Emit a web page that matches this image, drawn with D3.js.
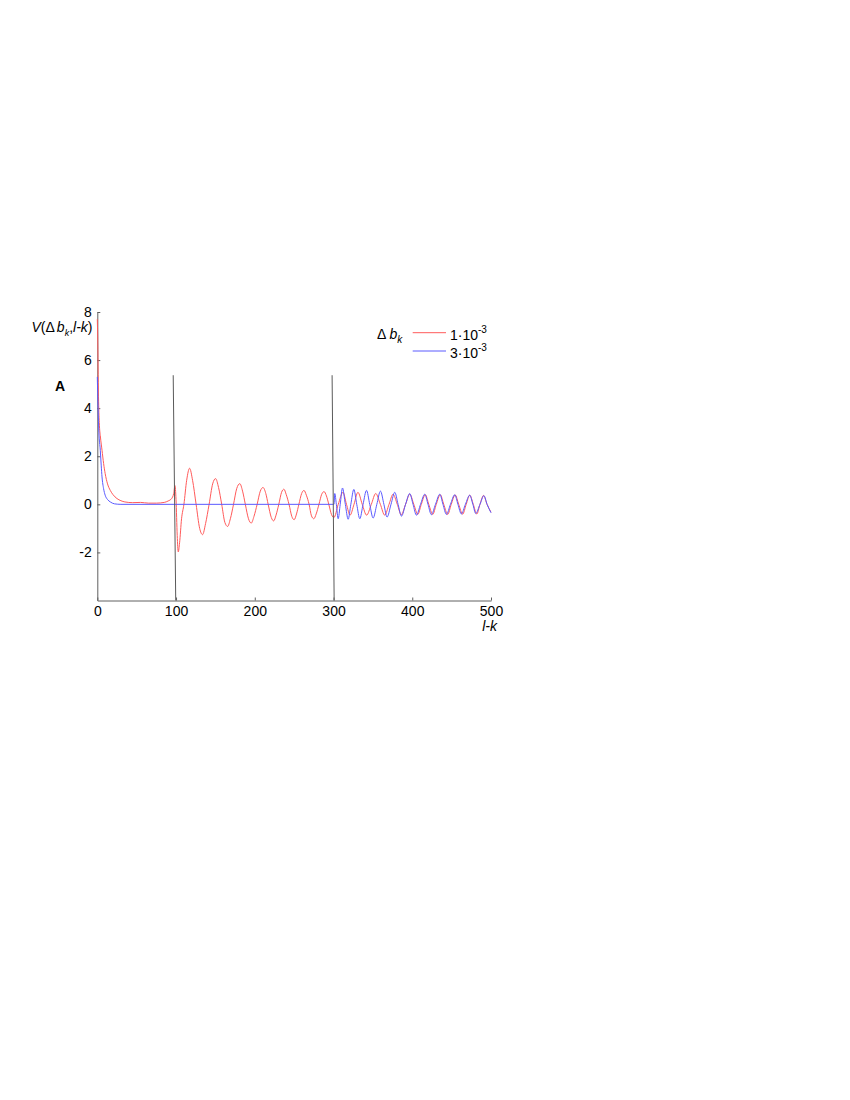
<!DOCTYPE html>
<html><head><meta charset="utf-8">
<script src="https://cdn.jsdelivr.net/npm/d3@7"></script>
<style>body{margin:0;background:#fff}svg{display:block}text{font-family:"Liberation Sans",Arial,sans-serif}</style>
</head><body><svg id="c" width="850" height="1100"></svg>
<script>
// ---- data ----
const xTicks = [0, 100, 200, 300, 400, 500];
const yTicks = [-2, 0, 2, 4, 6, 8];
const legendLabels = ["1·10", "3·10"];
const legendExp = ["-3", "-3"];
const redLK = [0,0.5,1.5,2.5,4,6,8,10,13,16.5,20,25,30,35,45,55,65,75,85,90,94.4,97,98.6,100,101.5,102.8,104.5,107,110,113.5,117.2,121,125.5,130,133.7,137.5,142,146.5,150.2,154,158,162,165.5,169,173,177,181,184.5,188,192,195.5,199,203,207,210.5,214,217,221,224,227,230.5,234,237,240,243.5,247,250,253,256,259.5,262.5,265.5,269,272,275,278,281.5,285,288,291,294,297.5,300.5,306,312,316.5,321,326,331,336.5,342,348,353.6,359.5,365,370.5,375.6,381,386,391.5,396.8,402,407,411.5,416.5,421,426,430.5,435.5,440,445,449.5,454.5,459,464,468.5,473,477.5,482,486,490.5,495,500];
const redV = [7.7,7.0,4.5,3.4,2.8,2.25,1.7,1.28,0.85,0.58,0.4,0.24,0.15,0.1,0.07,0.08,0.05,0.05,0.08,0.14,0.24,0.45,0.78,0.2,-1.3,-1.98,-1.6,-0.6,0,1.0,1.5,1.0,0,-1.0,-1.26,-0.8,0,0.85,1.07,0.7,0,-0.75,-0.92,-0.6,0,0.65,0.86,0.55,0,-0.6,-0.78,-0.5,0,0.55,0.7,0.45,0,-0.55,-0.69,-0.45,0,0.5,0.63,0.4,0,-0.5,-0.64,-0.4,0,0.45,0.58,0.38,0,-0.48,-0.6,-0.4,0,0.42,0.53,0.35,0,-0.43,-0.55,0,0.5,0,-0.45,0,0.5,0,-0.45,0,0.45,0,-0.45,0,0.42,0,-0.43,0,0.42,0,-0.42,0,0.4,0,-0.42,0,0.4,0,-0.42,0,0.39,0,-0.41,0,0.38,0,-0.4,0,0.37,0,-0.33];
const blueLK = [0,1,2,3.8,5,6,8,10,13,16.5,22,30,300,300.6,301.6,303.6,305.9,308.5,311.4,315,318.6,322,325.8,329.5,333.4,337.5,341.9,346,350.3,355,359.6,364,368,373,377.8,382,386.3,391.5,396.8,401,405.3,410.5,415.9,420,424.3,429.5,435,439,443.4,448.5,454,458,462.4,467.5,473,477,480.6,486,491,495,500];
const blueV = [5.3,4.0,3.0,2.25,1.6,1.14,0.65,0.38,0.2,0.1,0.02,0,0,0,0.45,0,-0.6,0,0.68,0,-0.62,0,0.62,0,-0.6,0,0.58,0,-0.57,0,0.55,0,-0.53,0,0.5,0,-0.49,0,0.45,0,-0.45,0,0.42,0,-0.43,0,0.42,0,-0.42,0,0.4,0,-0.4,0,0.38,0,-0.38,0,0.36,0,-0.35];
const markerLK = [[96.4, 99.6], [298.2, 300.8]];
const markerV = [5.37, -4];

// ---- chart ----
const svg = d3.select("#c");
const x = d3.scaleLinear([0, 500], [97.3, 491]);
const y = d3.scaleLinear([-4, 8], [600.5, 312]);
const axisColor = "#606060";
const fs = "14px";

const xa = svg.append("g").attr("transform", `translate(0,${y(-4)})`)
  .call(d3.axisBottom(x).tickValues(xTicks).tickFormat(d => String(d)).tickSizeInner(-3).tickSizeOuter(0).tickPadding(5.5));
const ya = svg.append("g").attr("transform", `translate(${x(0)},0)`)
  .call(d3.axisLeft(y).tickValues(yTicks).tickFormat(d => String(d)).tickSizeInner(-3).tickSizeOuter(0).tickPadding(5.5));
[xa, ya].forEach(a => {
  a.select(".domain").attr("stroke", axisColor);
  a.selectAll(".tick line").attr("stroke", axisColor);
  a.selectAll(".tick text").attr("fill", "#000").style("font-size", fs).style("font-family", '"Liberation Sans",Arial,sans-serif');
});

const line = d3.line().x(d => x(d[0])).y(d => y(d[1])).curve(d3.curveMonotoneX);
const red = redLK.map((v, i) => [v, redV[i]]);
const blue = blueLK.map((v, i) => [v, blueV[i]]);
svg.append("path").attr("d", line(red)).attr("fill", "none").attr("stroke", "#ff5a5a").attr("stroke-width", 1);
svg.append("path").attr("d", line(blue)).attr("fill", "none").attr("stroke", "#5a5aff").attr("stroke-width", 1);

const mline = d3.line().x(d => x(d[0])).y(d => y(d[1]));
markerLK.forEach(m => {
  svg.append("path").attr("d", mline([[m[0], markerV[0]], [m[1], markerV[1]]]))
    .attr("stroke", "#5a5a5a").attr("stroke-width", 1).attr("fill", "none");
});

// axis titles
const yl = svg.append("text").attr("x", 31.5).attr("y", 332).style("font-size", fs);
yl.append("tspan").attr("font-style", "italic").text("V");
yl.append("tspan").text("(Δ");
yl.append("tspan").attr("font-style", "italic").attr("dx", 2).text("b");
yl.append("tspan").attr("font-style", "italic").attr("dy", 4).style("font-size", "9px").text("k");
yl.append("tspan").attr("dy", -4).text(",");
yl.append("tspan").attr("font-style", "italic").text("l-k");
yl.append("tspan").text(")");

svg.append("text").attr("x", 497).attr("y", 631).attr("text-anchor", "end")
  .attr("font-style", "italic").style("font-size", fs).text("l-k");

svg.append("text").attr("x", 55).attr("y", 391).attr("font-weight", "bold").style("font-size", fs).text("A");

// legend
const lt = svg.append("text").attr("x", 377).attr("y", 339).style("font-size", fs);
lt.append("tspan").text("Δ ");
lt.append("tspan").attr("font-style", "italic").text("b");
lt.append("tspan").attr("font-style", "italic").attr("dy", 4).style("font-size", "10px").text("k");

const legColors = ["#ff5a5a", "#5a5aff"];
const legY = [332.7, 351];
legendLabels.forEach((lab, i) => {
  svg.append("line").attr("x1", 412.7).attr("x2", 446).attr("y1", legY[i]).attr("y2", legY[i])
    .attr("stroke", legColors[i]).attr("stroke-width", 1);
  const t = svg.append("text").attr("x", 450).attr("y", legY[i] + 7).style("font-size", fs);
  t.append("tspan").text(lab);
  t.append("tspan").attr("dy", -7).style("font-size", "10px").text(legendExp[i]);
});
</script></body></html>
